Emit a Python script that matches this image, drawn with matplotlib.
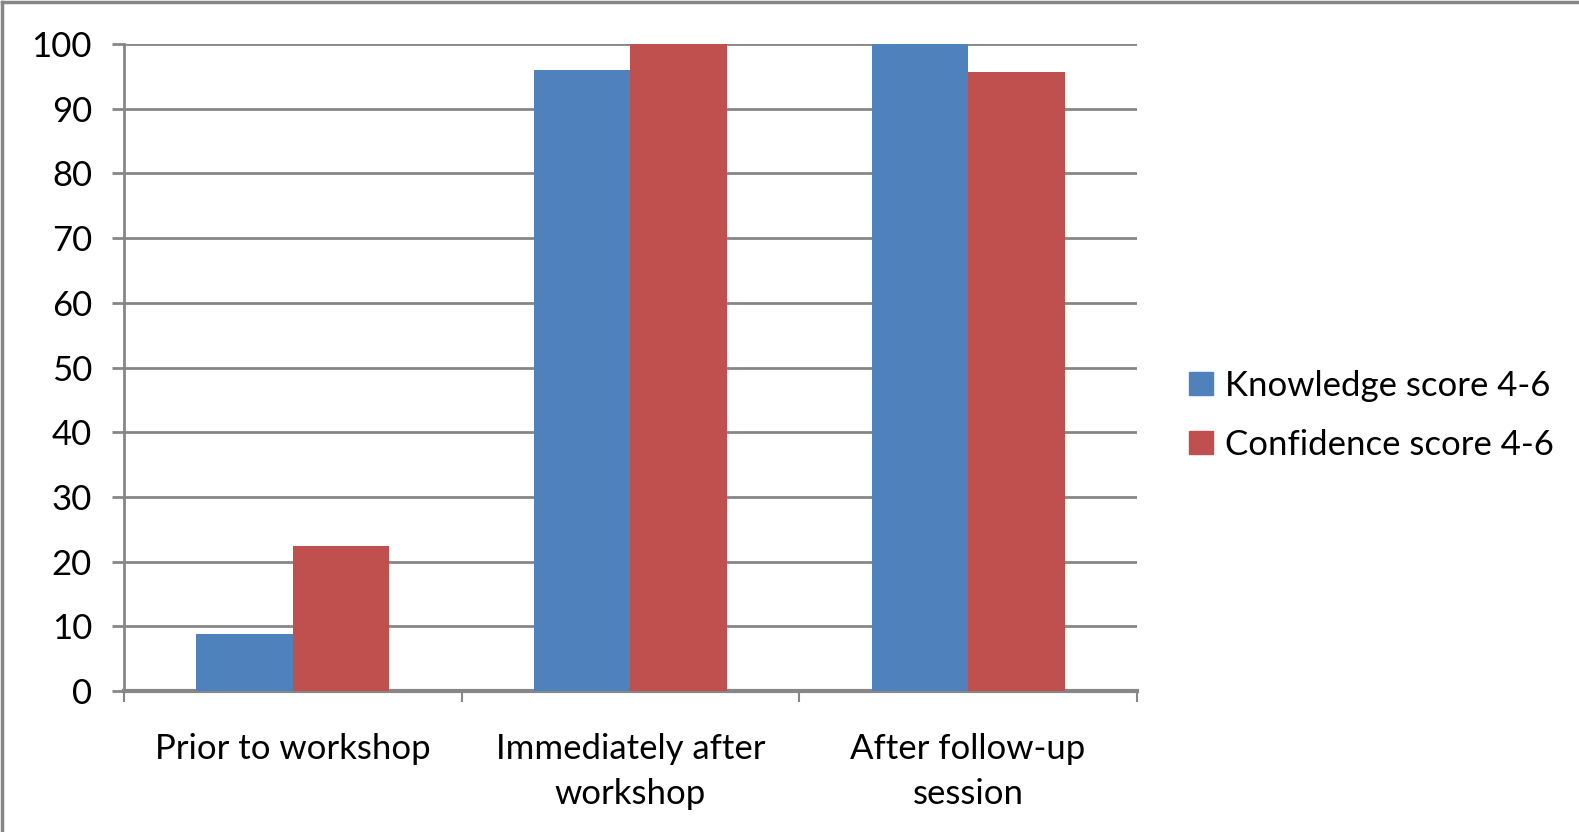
import numpy as np
import matplotlib
matplotlib.use('Agg')
from matplotlib import pyplot as plt
from matplotlib.patches import Patch

categories = ['Prior to workshop', 'Immediately after\nworkshop', 'After follow-up\nsession']
knowledge = [8.8, 96.0, 100.0]
confidence = [22.4, 100.0, 95.7]
series_names = ['Knowledge score 4-6', 'Confidence score 4-6']
yticks = [0, 10, 20, 30, 40, 50, 60, 70, 80, 90, 100]

blue = '#4F81BD'
red = '#C0504D'
grey = '#868686'

plt.rcParams['font.family'] = ['Lato', 'DejaVu Sans']

fig = plt.figure(figsize=(15.79, 8.32), dpi=100)
ax = fig.add_axes([0.0785, 0.1695, 0.6415, 0.7775])

x = np.arange(len(categories))
w = 1 / 3.5
ax.bar(x - w / 2, knowledge, w, color=blue, zorder=3)
ax.bar(x + w / 2, confidence, w, color=red, zorder=3)

ax.set_xlim(-0.5, len(categories) - 0.5)
ax.set_ylim(0, 100)
ax.set_yticks(yticks)
ax.yaxis.grid(True, color=grey, lw=2, zorder=0)
ax.tick_params(axis='y', length=9, width=2, color=grey, pad=14, labelsize=25)

# category labels at centers, tick marks at the boundaries
ax.set_xticks(x)
ax.set_xticklabels(categories, fontsize=25, linespacing=1.5)
ax.set_xticks(np.arange(len(categories) + 1) - 0.5, minor=True)
ax.tick_params(axis='x', which='major', length=0, pad=30)
ax.tick_params(axis='x', which='minor', length=8, width=1.5, color=grey)

for s in ['top', 'right']:
    ax.spines[s].set_visible(False)
ax.spines['left'].set_color(grey)
ax.spines['left'].set_linewidth(2)
ax.spines['bottom'].set_color(grey)
ax.spines['bottom'].set_linewidth(3)

handles = [Patch(color=blue), Patch(color=red)]
fig.legend(handles, series_names, loc='center left', bbox_to_anchor=(0.7335, 0.501),
           frameon=False, fontsize=25, handlelength=0.68, handleheight=0.68,
           handletextpad=0.35, labelspacing=0.78)

# outer frame on the left and top edges
fig.add_artist(plt.Line2D([0.0015, 0.0015], [0, 0.998], color=grey, lw=2.5))
fig.add_artist(plt.Line2D([0.0015, 1], [0.998, 0.998], color=grey, lw=2.5))

fig.savefig('out.png', dpi=100)
